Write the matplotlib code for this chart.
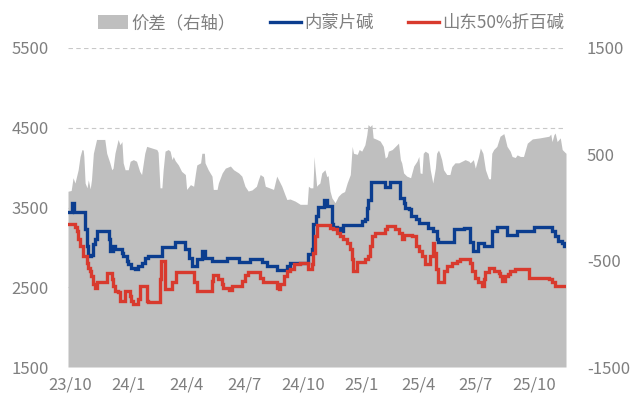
import matplotlib
matplotlib.use("Agg")
import matplotlib.pyplot as plt
import matplotlib.transforms as mtransforms
from matplotlib.patches import Patch
from matplotlib.lines import Line2D
import pandas as pd

plt.rcParams['font.family'] = ['Noto Sans CJK SC', 'DejaVu Sans']

# 内蒙片碱 (step changes)
nm_dates = ["2023-09-27", "2023-10-03", "2023-10-07", "2023-10-24", "2023-10-27", "2023-10-29",
            "2023-11-03", "2023-11-06", "2023-11-09", "2023-11-11", "2023-11-30", "2023-12-02",
            "2023-12-07", "2023-12-10", "2023-12-21", "2023-12-23", "2023-12-29", "2023-12-31",
            "2024-01-05", "2024-01-11", "2024-01-16", "2024-01-21", "2024-01-26", "2024-01-31",
            "2024-02-22", "2024-03-14", "2024-03-29", "2024-04-04", "2024-04-09", "2024-04-17",
            "2024-04-25", "2024-04-30", "2024-05-11", "2024-06-03", "2024-06-22", "2024-07-10",
            "2024-07-29", "2024-08-05", "2024-08-21", "2024-09-06", "2024-09-11", "2024-10-10",
            "2024-10-15", "2024-10-17", "2024-10-22", "2024-10-25", "2024-11-03", "2024-11-09",
            "2024-11-16", "2024-11-18", "2024-11-24", "2024-11-29", "2024-12-04", "2025-01-02",
            "2025-01-07", "2025-01-10", "2025-01-12", "2025-01-16", "2025-02-08", "2025-02-16",
            "2025-03-04", "2025-03-09", "2025-03-12", "2025-03-17", "2025-03-20", "2025-03-28",
            "2025-04-02", "2025-04-17", "2025-04-25", "2025-04-30", "2025-05-03", "2025-05-27",
            "2025-06-12", "2025-06-22", "2025-06-27", "2025-07-05", "2025-07-13", "2025-07-26",
            "2025-08-03", "2025-08-19", "2025-09-03", "2025-09-30", "2025-10-29", "2025-11-03",
            "2025-11-08", "2025-11-14", "2025-11-17", "2025-11-20"]
nm_values = [3440, 3560, 3440, 3230, 3020, 2890,
             2910, 3040, 3100, 3200, 3100, 2950,
             3015, 2975, 2935, 2890, 2830, 2790,
             2745, 2725, 2765, 2810, 2870, 2890,
             3000, 3066, 2975, 2870, 2765, 2850,
             2955, 2870, 2830, 2870, 2815, 2860,
             2815, 2765, 2715, 2765, 2800, 2920,
             2975, 3290, 3390, 3510, 3600, 3515,
             3290, 3260, 3245, 3205, 3275, 3330,
             3350, 3500, 3600, 3815, 3760, 3815,
             3620, 3560, 3495, 3475, 3390, 3350,
             3310, 3245, 3205, 3100, 3065, 3225,
             3245, 3065, 2955, 3060, 3015, 3205,
             3260, 3160, 3205, 3260, 3205, 3140,
             3080, 3050, 3015, 3015]

# 山东50%折百碱 (step changes)
sd_dates = ["2023-09-27", "2023-10-08", "2023-10-11", "2023-10-13", "2023-10-16", "2023-10-21",
            "2023-10-27", "2023-10-29", "2023-11-01", "2023-11-03", "2023-11-06", "2023-11-09",
            "2023-11-11", "2023-11-27", "2023-12-05", "2023-12-07", "2023-12-10", "2023-12-15",
            "2023-12-18", "2023-12-26", "2024-01-03", "2024-01-05", "2024-01-08", "2024-01-16",
            "2024-01-18", "2024-01-29", "2024-01-31", "2024-02-19", "2024-02-21", "2024-02-27",
            "2024-03-09", "2024-03-16", "2024-04-12", "2024-04-17", "2024-05-11", "2024-05-13",
            "2024-05-21", "2024-05-27", "2024-05-29", "2024-06-06", "2024-06-11", "2024-06-27",
            "2024-07-02", "2024-07-07", "2024-07-26", "2024-07-31", "2024-08-21", "2024-08-24",
            "2024-08-26", "2024-09-01", "2024-09-06", "2024-09-11", "2024-09-17", "2024-09-27",
            "2024-10-10", "2024-10-15", "2024-10-17", "2024-10-20", "2024-10-23", "2024-11-13",
            "2024-11-18", "2024-11-24", "2024-11-29", "2024-12-04", "2024-12-10", "2024-12-15",
            "2024-12-18", "2024-12-20", "2024-12-26", "2025-01-07", "2025-01-12", "2025-01-15",
            "2025-01-18", "2025-01-23", "2025-02-08", "2025-02-11", "2025-02-24", "2025-03-01",
            "2025-03-06", "2025-03-09", "2025-03-22", "2025-03-28", "2025-04-02", "2025-04-07",
            "2025-04-12", "2025-04-20", "2025-04-24", "2025-04-26", "2025-04-29", "2025-05-03",
            "2025-05-11", "2025-05-16", "2025-05-24", "2025-06-01", "2025-06-06", "2025-06-22",
            "2025-06-25", "2025-06-30", "2025-07-05", "2025-07-10", "2025-07-13", "2025-07-16",
            "2025-07-21", "2025-07-29", "2025-08-06", "2025-08-08", "2025-08-11", "2025-08-16",
            "2025-08-21", "2025-08-24", "2025-09-01", "2025-09-22", "2025-10-24", "2025-10-29",
            "2025-11-03", "2025-11-20"]
sd_values = [3290, 3260, 3205, 3100, 3015, 2890,
             2810, 2745, 2705, 2640, 2540, 2495,
             2560, 2675, 2600, 2515, 2455, 2435,
             2330, 2455, 2390, 2330, 2285, 2350,
             2515, 2330, 2315, 2600, 2830, 2475,
             2560, 2685, 2560, 2455, 2580, 2650,
             2600, 2540, 2495, 2465, 2515, 2580,
             2650, 2690, 2610, 2565, 2495, 2475,
             2540, 2640, 2705, 2735, 2790, 2800,
             2735, 2790, 2935, 3140, 3275, 3245,
             3225, 3185, 3140, 3100, 3060, 2975,
             2850, 2705, 2815, 2850, 2890, 3015,
             3140, 3185, 3225, 3265, 3225, 3185,
             3100, 3160, 3140, 3015, 2955, 2890,
             2790, 2890, 3050, 2935, 2725, 2560,
             2705, 2765, 2810, 2830, 2850, 2800,
             2705, 2610, 2560, 2515, 2600, 2685,
             2745, 2705, 2675, 2640, 2580, 2640,
             2660, 2705, 2735, 2620, 2600, 2565,
             2515, 2515]

# 价差（右轴）
spread_dates = ["2023-09-27", "2023-10-02", "2023-10-05", "2023-10-08", "2023-10-13", "2023-10-16",
                "2023-10-19", "2023-10-21", "2023-10-22", "2023-10-24", "2023-10-27", "2023-10-29",
                "2023-11-01", "2023-11-03", "2023-11-06", "2023-11-11", "2023-11-24", "2023-11-27",
                "2023-12-02", "2023-12-05", "2023-12-07", "2023-12-10", "2023-12-15", "2023-12-18",
                "2023-12-21", "2023-12-23", "2023-12-26", "2023-12-31", "2024-01-03", "2024-01-08",
                "2024-01-13", "2024-01-18", "2024-01-21", "2024-01-26", "2024-01-29", "2024-02-14",
                "2024-02-16", "2024-02-19", "2024-02-22", "2024-02-24", "2024-02-27", "2024-03-03",
                "2024-03-06", "2024-03-09", "2024-03-11", "2024-03-14", "2024-03-19", "2024-03-24",
                "2024-03-30", "2024-04-01", "2024-04-07", "2024-04-12", "2024-04-15", "2024-04-17",
                "2024-04-23", "2024-04-25", "2024-04-29", "2024-04-30", "2024-05-05", "2024-05-11",
                "2024-05-13", "2024-05-19", "2024-05-21", "2024-05-27", "2024-06-01", "2024-06-09",
                "2024-06-14", "2024-06-22", "2024-06-27", "2024-07-02", "2024-07-07", "2024-07-13",
                "2024-07-20", "2024-07-23", "2024-07-26", "2024-07-31", "2024-08-03", "2024-08-16",
                "2024-08-21", "2024-08-24", "2024-08-29", "2024-09-03", "2024-09-06", "2024-09-11",
                "2024-09-19", "2024-09-27", "2024-10-08", "2024-10-10", "2024-10-13", "2024-10-17",
                "2024-10-19", "2024-10-20", "2024-10-23", "2024-10-25", "2024-10-28", "2024-10-31",
                "2024-11-05", "2024-11-08", "2024-11-10", "2024-11-13", "2024-11-16", "2024-11-21",
                "2024-11-26", "2024-12-01", "2024-12-06", "2024-12-10", "2024-12-15", "2024-12-18",
                "2024-12-20", "2024-12-26", "2024-12-29", "2025-01-02", "2025-01-07", "2025-01-10",
                "2025-01-12", "2025-01-15", "2025-01-18", "2025-01-20", "2025-01-26", "2025-01-31",
                "2025-02-05", "2025-02-08", "2025-02-11", "2025-02-13", "2025-02-19", "2025-02-24",
                "2025-03-01", "2025-03-04", "2025-03-06", "2025-03-09", "2025-03-14", "2025-03-20",
                "2025-03-25", "2025-03-30", "2025-04-02", "2025-04-04", "2025-04-07", "2025-04-09",
                "2025-04-12", "2025-04-17", "2025-04-20", "2025-04-24", "2025-04-28", "2025-04-30",
                "2025-05-03", "2025-05-05", "2025-05-08", "2025-05-11", "2025-05-16", "2025-05-21",
                "2025-05-24", "2025-05-29", "2025-06-04", "2025-06-09", "2025-06-14", "2025-06-20",
                "2025-06-22", "2025-06-27", "2025-06-30", "2025-07-05", "2025-07-08", "2025-07-12",
                "2025-07-16", "2025-07-21", "2025-07-24", "2025-07-26", "2025-07-29", "2025-08-03",
                "2025-08-08", "2025-08-14", "2025-08-16", "2025-08-19", "2025-08-24", "2025-08-27",
                "2025-09-01", "2025-09-04", "2025-09-09", "2025-09-14", "2025-09-20", "2025-09-28",
                "2025-10-10", "2025-10-24", "2025-10-27", "2025-10-29", "2025-11-01", "2025-11-03",
                "2025-11-06", "2025-11-11", "2025-11-14", "2025-11-19", "2025-11-20"]
spread_values = [153, 160, 280, 230, 355, 480,
                 545, 540, 480, 230, 185, 260,
                 175, 260, 510, 640, 640, 510,
                 420, 355, 370, 510, 640, 590,
                 620, 420, 355, 355, 435, 450,
                 435, 340, 310, 510, 575, 545,
                 520, 185, 185, 355, 530, 545,
                 530, 450, 480, 440, 400, 340,
                 310, 170, 215, 200, 325, 400,
                 420, 510, 510, 420, 355, 295,
                 170, 170, 230, 325, 370, 390,
                 355, 325, 295, 200, 155, 165,
                 200, 260, 310, 290, 200, 170,
                 295, 260, 200, 120, 75, 80,
                 60, 30, 30, 200, 185, 185,
                 480, 390, 200, 215, 230, 325,
                 355, 290, 300, 155, 90, 45,
                 105, 135, 150, 230, 310, 575,
                 510, 500, 545, 530, 590, 685,
                 780, 760, 780, 655, 640, 625,
                 575, 465, 480, 530, 545, 575,
                 605, 450, 420, 325, 295, 280,
                 390, 435, 480, 325, 320, 510,
                 530, 510, 355, 230, 370, 510,
                 540, 510, 450, 355, 310, 310,
                 385, 420, 420, 435, 450, 435,
                 420, 450, 370, 480, 560, 510,
                 355, 270, 270, 510, 545, 575,
                 670, 695, 650, 575, 530, 480,
                 470, 495, 480, 480, 605, 645,
                 655, 670, 690, 620, 685, 700,
                 620, 655, 545, 515, 510]

tick_months = ["2023-10-01", "2024-01-01", "2024-04-01", "2024-07-01", "2024-10-01",
               "2025-01-01", "2025-04-01", "2025-07-01", "2025-10-01"]
tick_labels = ["23/10", "24/1", "24/4", "24/7", "24/10", "25/1", "25/4", "25/7", "25/10"]

left_ticks = [1500, 2500, 3500, 4500, 5500]
right_ticks = [-1500, -500, 500, 1500]

blue = '#0B3D8F'
red = '#D83A2E'
area_c = '#BFBFBF'
txt = '#7F7F7F'

fig = plt.figure(figsize=(6.34, 4.03), dpi=100)
ax = fig.add_axes([68 / 634, 36 / 403, 498 / 634, 319 / 403])
ax2 = ax.twinx()
# lines on top, area underneath
ax.set_zorder(ax2.get_zorder() + 1)
ax.patch.set_visible(False)

ax.set_xlim(pd.Timestamp("2023-09-27"), pd.Timestamp("2025-11-20"))
ax.set_ylim(1500, 5500)
ax2.set_ylim(-1500, 1500)

# dashed grid at the left ticks, drawn under the area
grid_tr = mtransforms.blended_transform_factory(ax2.transAxes, ax.transData)
for v in left_ticks:
    ax2.plot([0, 1], [v, v], transform=grid_tr, color='#C8C8C8', lw=0.8,
             ls=(0, (4, 3)), zorder=0)

ax2.fill_between(pd.to_datetime(spread_dates), -1500, spread_values, color=area_c, lw=0, zorder=1)

ax.plot(pd.to_datetime(nm_dates), nm_values, drawstyle='steps-post', color=blue, lw=2.4,
        solid_joinstyle='miter')
ax.plot(pd.to_datetime(sd_dates), sd_values, drawstyle='steps-post', color=red, lw=2.4,
        solid_joinstyle='miter')

ax.set_yticks(left_ticks)
ax.set_yticklabels([str(v) for v in left_ticks])
ax2.set_yticks(right_ticks)
ax2.set_yticklabels([str(v) for v in right_ticks])
ax.set_xticks(pd.to_datetime(tick_months))
ax.set_xticklabels(tick_labels)

for a in (ax, ax2):
    for s in a.spines.values():
        s.set_visible(False)
    a.tick_params(length=0, labelsize=12, labelcolor=txt)
ax.tick_params(axis='y', pad=14)
ax2.tick_params(axis='y', pad=15)
ax.tick_params(axis='x', pad=7)

handles = [Patch(facecolor=area_c, edgecolor='none'),
           Line2D([], [], color=blue, lw=2.4),
           Line2D([], [], color=red, lw=2.4)]
labels = ['价差（右轴）', '内蒙片碱', '山东50%折百碱']
fig.legend(handles, labels, loc='center', bbox_to_anchor=(0.522, 0.943), ncol=3,
           frameon=False, fontsize=12.5, labelcolor=txt, handlelength=1.75,
           handleheight=0.8, handletextpad=0.2, columnspacing=2.0)

fig.savefig('out.png', dpi=100)
